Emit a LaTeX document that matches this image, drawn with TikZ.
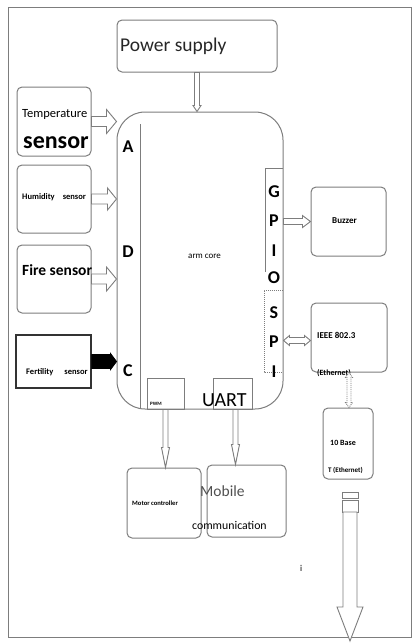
\documentclass[tikz,border=0pt]{standalone}
\usepackage{fontspec}
\setmainfont{Carlito}
\usetikzlibrary{calc}
\definecolor{edgegray}{RGB}{125,125,125}
\definecolor{textgray}{RGB}{80,80,80}
\newcommand{\fsz}[1]{\fontsize{#1}{#1}\selectfont}
\tikzset{
  blk/.style={draw=edgegray, line width=1pt, rounded corners=5pt, inner sep=0pt},
  lbl/.style={inner sep=0pt, anchor=west, text=black},
  pin/.style={inner sep=0pt, font=\fsz{18}\bfseries},
  arrline/.style={draw=edgegray, line width=0.9pt, line join=miter}
}
% block arrow: fill, from, to, shaft half width, head half width, head length
\newcommand{\fatarrow}[7][]{%
  \coordinate (fatH) at ($(#4)!#7!(#3)$);
  \draw[arrline, fill=#2, #1] ($(#3)!#5!90:(#4)$) -- ($(fatH)!#5!90:(#4)$) -- ($(fatH)!#6!90:(#4)$)
    -- (#4) -- ($(fatH)!#6!-90:(#4)$) -- ($(fatH)!#5!-90:(#4)$) -- ($(#3)!#5!-90:(#4)$) -- cycle;}
% same, with a head at both ends
\newcommand{\fatarrows}[7][]{%
  \coordinate (fatH) at ($(#4)!#7!(#3)$);
  \coordinate (fatG) at ($(#3)!#7!(#4)$);
  \draw[arrline, fill=#2, #1] (#3) -- ($(fatG)!#6!90:(#4)$) -- ($(fatG)!#5!90:(#4)$) -- ($(fatH)!#5!90:(#4)$)
    -- ($(fatH)!#6!90:(#4)$) -- (#4) -- ($(fatH)!#6!-90:(#4)$) -- ($(fatH)!#5!-90:(#4)$)
    -- ($(fatG)!#5!-90:(#4)$) -- ($(fatG)!#6!-90:(#4)$) -- cycle;}
\begin{document}
\begin{tikzpicture}[x=1pt, y=-1pt]
\useasboundingbox (0,0) rectangle (412,643);
\draw[edgegray, line width=1pt] (8,7) rectangle (411,637);

% blocks
\node[blk, minimum width=160pt, minimum height=52pt] (power) at (197,46) {};
\node[blk, rounded corners=28pt, minimum width=166pt, minimum height=297pt] (core) at (200,260.5) {};
\node[blk, minimum width=74pt, minimum height=69pt] (temp) at (54,121.5) {};
\node[blk, minimum width=74pt, minimum height=68pt] (humid) at (54,199) {};
\node[blk, minimum width=74pt, minimum height=68pt] (fire) at (54,279) {};
\node[blk, draw=black!80, line width=1.4pt, rounded corners=0pt, minimum width=75pt, minimum height=53pt] (fert) at (53.5,361.5) {};
\node[blk, minimum width=75pt, minimum height=69pt] (buzzer) at (348.5,221.5) {};
\node[blk, minimum width=76pt, minimum height=69pt] (ieee) at (349,337.5) {};
\node[blk, minimum width=50pt, minimum height=71pt] (base) at (348,443.5) {};
\node[blk, minimum width=74pt, minimum height=70pt] (motor) at (164,503) {};
\node[blk, minimum width=79pt, minimum height=72pt] (mobile) at (246.5,501) {};
\node[blk, rounded corners=0pt, minimum width=37pt, minimum height=31pt] (pwm) at (165.5,393.5) {};
\node[blk, rounded corners=0pt, minimum width=39pt, minimum height=31pt] (uart) at (232.5,393.5) {};

% ports on the core
\draw[edgegray, line width=1pt] (140,124) -- (140,409);
\draw[edgegray, line width=1pt] (283,168) -- (265,168) -- (265,272);
\draw[edgegray, line width=1pt, densely dotted] (283,290) -- (264,290) -- (264,372) -- (283,372);
\node[pin] (pinA) at (128,147) {A};
\node[pin] (pinD) at (128,252) {D};
\node[pin] (pinC) at (128,371) {C};
\node[pin] (pinG) at (274,192) {G};
\node[pin] (pinP) at (274,221) {P};
\node[pin] (pinI) at (274,251) {I};
\node[pin] (pinO) at (274,278) {O};
\node[pin] (pinS) at (274,313) {S};
\node[pin] (pinP2) at (274,342) {P};
\node[pin] (pinI2) at (274,372) {I};

% texts
\node[lbl, text=black!85, font=\fsz{19.5}] (powertxt) at (120,46) {Power supply};
\node[lbl, font=\fsz{12.5}] (temptxt) at (22,114) {Temperature};
\node[lbl, font=\fsz{24}\bfseries] (tempsns) at (23,143) {sensor};
\node[lbl, font=\fsz{8.5}\bfseries] (humidtxt) at (22,197) {Humidity\hspace{8pt}sensor};
\node[lbl, font=\fsz{15.5}\bfseries] (firetxt) at (22,270) {Fire sensor};
\node[lbl, font=\fsz{8.5}\bfseries] (ferttxt) at (26,372) {Fertility\hspace{11pt}sensor};
\node[lbl, font=\fsz{9}] (coretxt) at (188,256) {arm core};
\node[lbl, font=\fsz{9}\bfseries] (buzzertxt) at (332,221) {Buzzer};
\node[lbl, font=\fsz{9}\bfseries] (ieeetxt) at (317,335) {IEEE 802.3};
\node[lbl, font=\fsz{8}\bfseries] (ethtxt) at (317,373) {(Ethernet)};
\node[lbl, font=\fsz{8}\bfseries] (basetxt) at (330,443) {10 Base};
\node[lbl, font=\fsz{7}\bfseries] (basetxt2) at (328,470) {T (Ethernet)};
\node[lbl, font=\fsz{6.6}\bfseries] (motortxt) at (132,503) {Motor controller};
\node[lbl, text=textgray, font=\fsz{15.5}] (mobiletxt) at (200,491) {Mobile};
\node[lbl, font=\fsz{11.8}] (mobiletxt2) at (192,525) {communication};
\node[lbl, font=\fsz{5}\bfseries] (pwmtxt) at (150,404) {PWM};
\node[lbl, font=\fsz{20}] (uarttxt) at (202,400) {UART};
\node[lbl, font=\fsz{9}] (itxt) at (300,568) {i};

% connectors
\coordinate (powerin) at (power.south |- core.north);
\coordinate (tempin) at (core.west |- temp.east);
\coordinate (humidin) at (core.west |- humid.east);
\coordinate (firein) at (core.west |- fire.east);
\coordinate (fertin) at (core.west |- fert.east);
\coordinate (gpioout) at (core.east |- buzzer.west);
\coordinate (spiout) at ([yshift=-3pt]core.east |- ieee.west);
\coordinate (ieeeout) at ([yshift=-3pt]ieee.west);
\coordinate (pwmout) at (pwm.south);
\coordinate (motorin) at (pwm.south |- motor.north);
\coordinate (uartout) at ([xshift=3pt]uart.south);
\coordinate (mobilein) at (uartout |- mobile.north);
\coordinate (baseout) at (ieee.south |- base.north);
\coordinate (outtop) at (350,512);
\coordinate (outend) at (350,641);

\fatarrow{white}{power.south}{powerin}{2.5pt}{4pt}{6pt}
\fatarrow{white}{temp.east}{tempin}{5pt}{12pt}{10pt}
\fatarrow{white}{humid.east}{humidin}{5pt}{11pt}{9pt}
\fatarrow{white}{fire.east}{firein}{5pt}{12pt}{10pt}
\fatarrow[draw=black]{black}{fert.east}{fertin}{7pt}{8pt}{6pt}
\fatarrow{white}{gpioout}{buzzer.west}{3pt}{6pt}{8pt}
\fatarrows{white}{spiout}{ieeeout}{3pt}{5pt}{6pt}
\fatarrow{white}{pwmout}{motorin}{2.5pt}{4pt}{20pt}
\fatarrow{white}{uartout}{mobilein}{2.5pt}{4pt}{20pt}
\fatarrows[densely dotted]{white}{ieee.south}{baseout}{2pt}{3.5pt}{5pt}
\draw[arrline] (342,492) rectangle (358,498);
\draw[arrline] (342,500) rectangle (358,512);
\fatarrow{white}{outtop}{outend}{7pt}{13pt}{34pt}
\end{tikzpicture}
\end{document}
